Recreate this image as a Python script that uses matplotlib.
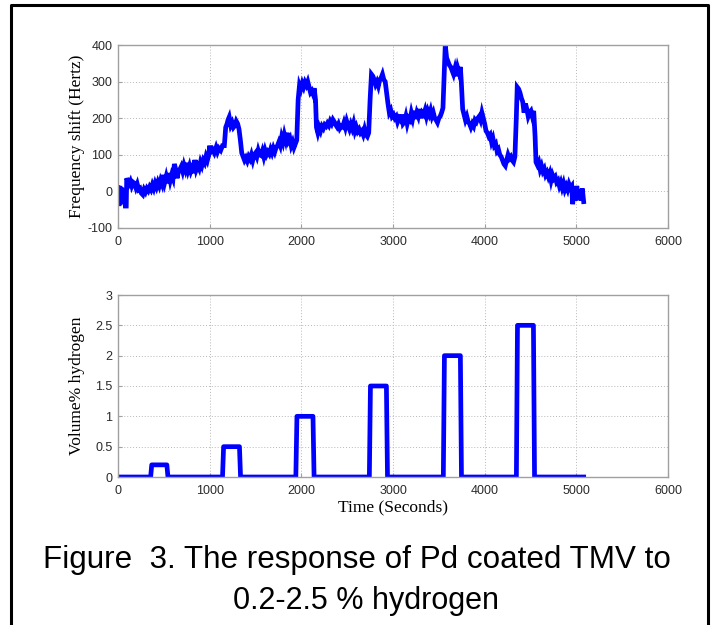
import matplotlib
matplotlib.use("Agg")
import matplotlib.pyplot as plt
from matplotlib.lines import Line2D
import numpy as np

# frequency shift trace (s, Hz)
freq_time = [
    0, 10, 20, 30, 40, 55, 70, 80, 90, 95,
    105, 120, 135, 150, 165, 180, 195, 210, 225, 240,
    255, 270, 285, 300, 315, 330, 345, 360, 375, 390,
    405, 420, 435, 450, 465, 480, 495, 510, 525, 540,
    555, 570, 585, 600, 615, 630, 645, 660, 675, 690,
    705, 720, 735, 750, 765, 780, 795, 810, 825, 840,
    855, 870, 885, 900, 915, 930, 945, 960, 975, 990,
    1000, 1010, 1030, 1050, 1070, 1085, 1100, 1120, 1140, 1160,
    1175, 1190, 1200, 1213, 1230, 1245, 1260, 1275, 1290, 1305,
    1320, 1335, 1350, 1365, 1380, 1395, 1410, 1425, 1440, 1455,
    1470, 1485, 1500, 1515, 1530, 1545, 1560, 1575, 1590, 1605,
    1620, 1635, 1650, 1665, 1680, 1695, 1710, 1725, 1740, 1755,
    1770, 1785, 1800, 1815, 1830, 1845, 1860, 1875, 1890, 1905,
    1920, 1935, 1950, 1965, 1980, 1995, 2010, 2025, 2040, 2055,
    2070, 2085, 2100, 2115, 2130, 2140, 2155, 2165, 2180, 2195,
    2210, 2225, 2240, 2255, 2270, 2285, 2300, 2315, 2330, 2345,
    2360, 2375, 2390, 2405, 2420, 2435, 2450, 2465, 2480, 2495,
    2510, 2525, 2540, 2555, 2570, 2585, 2600, 2615, 2630, 2645,
    2660, 2675, 2690, 2705, 2720, 2735, 2750, 2765, 2780, 2795,
    2810, 2825, 2840, 2855, 2870, 2885, 2900, 2915, 2930, 2945,
    2960, 2975, 2990, 3005, 3020, 3035, 3050, 3065, 3080, 3095,
    3110, 3125, 3140, 3155, 3170, 3185, 3200, 3215, 3230, 3245,
    3260, 3275, 3290, 3305, 3320, 3335, 3350, 3365, 3380, 3395,
    3410, 3425, 3440, 3455, 3470, 3485, 3500, 3515, 3530, 3545,
    3560, 3570, 3585, 3600, 3615, 3630, 3645, 3660, 3675, 3690,
    3705, 3720, 3735, 3745, 3760, 3775, 3790, 3805, 3820, 3835,
    3850, 3865, 3880, 3895, 3910, 3925, 3940, 3955, 3970, 3985,
    4000, 4015, 4030, 4045, 4060, 4075, 4090, 4105, 4120, 4135,
    4150, 4165, 4180, 4195, 4210, 4225, 4240, 4255, 4270, 4285,
    4300, 4315, 4330, 4345, 4355, 4370, 4385, 4400, 4415, 4430,
    4445, 4460, 4475, 4490, 4505, 4520, 4535, 4550, 4560, 4575,
    4590, 4605, 4620, 4635, 4650, 4665, 4680, 4695, 4710, 4725,
    4740, 4755, 4770, 4785, 4800, 4815, 4830, 4845, 4860, 4875,
    4890, 4905, 4920, 4935, 4950, 4960, 4975, 4990, 5005, 5020,
    5035, 5050, 5065, 5080,
]
freq_hz = [
    10, -40, 15, -35, 10, -20, 5, -40, -40, 36,
    30, 20, 28, 15, 25, 22, 10, 20, 5, 8,
    -5, -9, 5, -2, 8, 2, 12, 5, 18, 8,
    22, 12, 25, 15, 30, 20, 45, 25, 40, 22,
    50, 30, 45, 35, 75, 60, 36, 55, 60, 68,
    55, 72, 60, 78, 58, 70, 55, 65, 50, 86,
    60, 70, 62, 80, 70, 85, 78, 95, 85, 100,
    125, 108, 115, 105, 120, 108, 118, 112, 125, 125,
    175, 185, 195, 203, 180, 188, 175, 180, 192, 185,
    170, 140, 105, 95, 85, 92, 83, 95, 88, 100,
    85, 100, 105, 95, 112, 100, 98, 110, 95, 112,
    100, 108, 102, 115, 105, 118, 108, 120, 125, 135,
    125, 148, 135, 155, 140, 160, 138, 145, 125, 135,
    120, 130, 140, 250, 290, 280, 295, 285, 298, 290,
    300, 285, 270, 275, 265, 282, 250, 175, 160, 175,
    165, 178, 172, 182, 178, 186, 180, 192, 185, 196,
    190, 182, 176, 184, 172, 178, 176, 188, 175, 192,
    180, 170, 183, 172, 186, 165, 176, 164, 170, 160,
    165, 155, 170, 155, 150, 160, 250, 320, 315, 305,
    292, 300, 288, 305, 310, 320, 305, 300, 270, 240,
    215, 222, 205, 210, 200, 205, 190, 200, 195, 210,
    185, 190, 205, 185, 200, 195, 215, 200, 220, 198,
    215, 205, 225, 200, 215, 210, 222, 205, 220, 210,
    222, 205, 215, 200, 195, 188, 200, 205, 215, 228,
    330, 400, 365, 355, 345, 340, 330, 320, 335, 315,
    338, 325, 340, 300, 225, 210, 195, 205, 190, 185,
    175, 185, 178, 195, 190, 200, 205, 195, 215, 200,
    185, 165, 160, 150, 155, 135, 145, 125, 130, 110,
    115, 100, 95, 85, 75, 70, 85, 100, 90, 95,
    85, 80, 95, 200, 285, 280, 270, 255, 245, 215,
    240, 225, 205, 215, 220, 205, 220, 150, 80, 72,
    80, 60, 70, 55, 62, 45, 52, 40, 50, 30,
    45, 35, 40, 25, 30, 15, 25, 10, 22, 5,
    15, 5, 20, 10, 15, -35, 10, -25, 15, -20,
    5, -25, 8, -28,
]

# hydrogen pulses: on time, off time, volume %
pulse_on = [356, 1140, 1940, 2742, 3549, 4346]
pulse_off = [545, 1337, 2139, 2940, 3747, 4544]
pulse_level = [0.2, 0.5, 1.0, 1.5, 2.0, 2.5]
h2_end = 5080

x_ticks = [0, 1000, 2000, 3000, 4000, 5000, 6000]
freq_ticks = [-100, 0, 100, 200, 300, 400]
h2_ticks = [0, 0.5, 1, 1.5, 2, 2.5, 3]
h2_ticklabels = ["0", "0.5", "1", "1.5", "2", "2.5", "3"]

caption_1 = "Figure  3. The response of Pd coated TMV to"
caption_2 = "0.2-2.5 % hydrogen"

# build step trace for hydrogen
ramp = 12
h2_t = [0]
h2_v = [0]
for on, off, lev in zip(pulse_on, pulse_off, pulse_level):
    h2_t += [on, on + ramp, off - ramp, off]
    h2_v += [0, lev, lev, 0]
h2_t.append(h2_end)
h2_v.append(0)

W, H = 712, 625
fig = plt.figure(figsize=(W / 100, H / 100), dpi=100)
fig.patch.set_facecolor("white")

spine_col = "#a0a0a0"
tick_font = dict(family="Liberation Sans", size=9, color="#2a2a2a")
label_font = dict(family="Liberation Serif", size=12.5, color="black")


def style_axes(ax):
    for s in ax.spines.values():
        s.set_color(spine_col)
        s.set_linewidth(1.0)
    ax.tick_params(direction="in", length=3, color=spine_col)
    ax.tick_params(axis="x", pad=6)
    ax.tick_params(axis="y", pad=4)
    ax.grid(True, linestyle=(0, (1, 2)), color="#b8b8b8", linewidth=0.7)
    ax.set_axisbelow(True)
    ax.set_xlim(0, 6000)
    ax.set_xticks(x_ticks)
    ax.set_xticklabels([str(t) for t in x_ticks], **tick_font)


def px_axes(left, top, right, bottom):
    return fig.add_axes([left / W, 1 - bottom / H, (right - left) / W, (bottom - top) / H])


ax1 = px_axes(118, 45, 668, 228)
style_axes(ax1)
ax1.plot(freq_time, freq_hz, color="#0000ff", linewidth=3.4, solid_joinstyle="miter")
ax1.set_ylim(-100, 400)
ax1.set_yticks(freq_ticks)
ax1.set_yticklabels([str(t) for t in freq_ticks], **tick_font)
ax1.set_ylabel("Frequency shift (Hertz)", **label_font)
ax1.yaxis.set_label_coords(-0.06, 0.5)

ax2 = px_axes(118, 295, 668, 477)
style_axes(ax2)
ax2.plot(h2_t, h2_v, color="#0000ff", linewidth=3.4)
ax2.set_ylim(0, 3)
ax2.set_yticks(h2_ticks)
ax2.set_yticklabels(h2_ticklabels, **tick_font)
ax2.set_ylabel("Volume% hydrogen", **label_font)
ax2.yaxis.set_label_coords(-0.06, 0.5)
ax2.set_xlabel("Time (Seconds)", **label_font)
ax2.xaxis.set_label_coords(0.5, -0.125)

# black frame around the figure (open at bottom)
fig.add_artist(Line2D([11 / W, 11 / W, 708 / W, 708 / W], [0, 1 - 5 / H, 1 - 5 / H, 0],
                      transform=fig.transFigure, color="black", linewidth=2.2))

fig.text(357 / W, 1 - 560 / H, caption_1, ha="center", va="center",
         family="Liberation Sans", size=22.6, color="black")
fig.text(366 / W, 1 - 601 / H, caption_2, ha="center", va="center",
         family="Liberation Sans", size=22.0, color="black")

fig.savefig("out.png", dpi=100)
